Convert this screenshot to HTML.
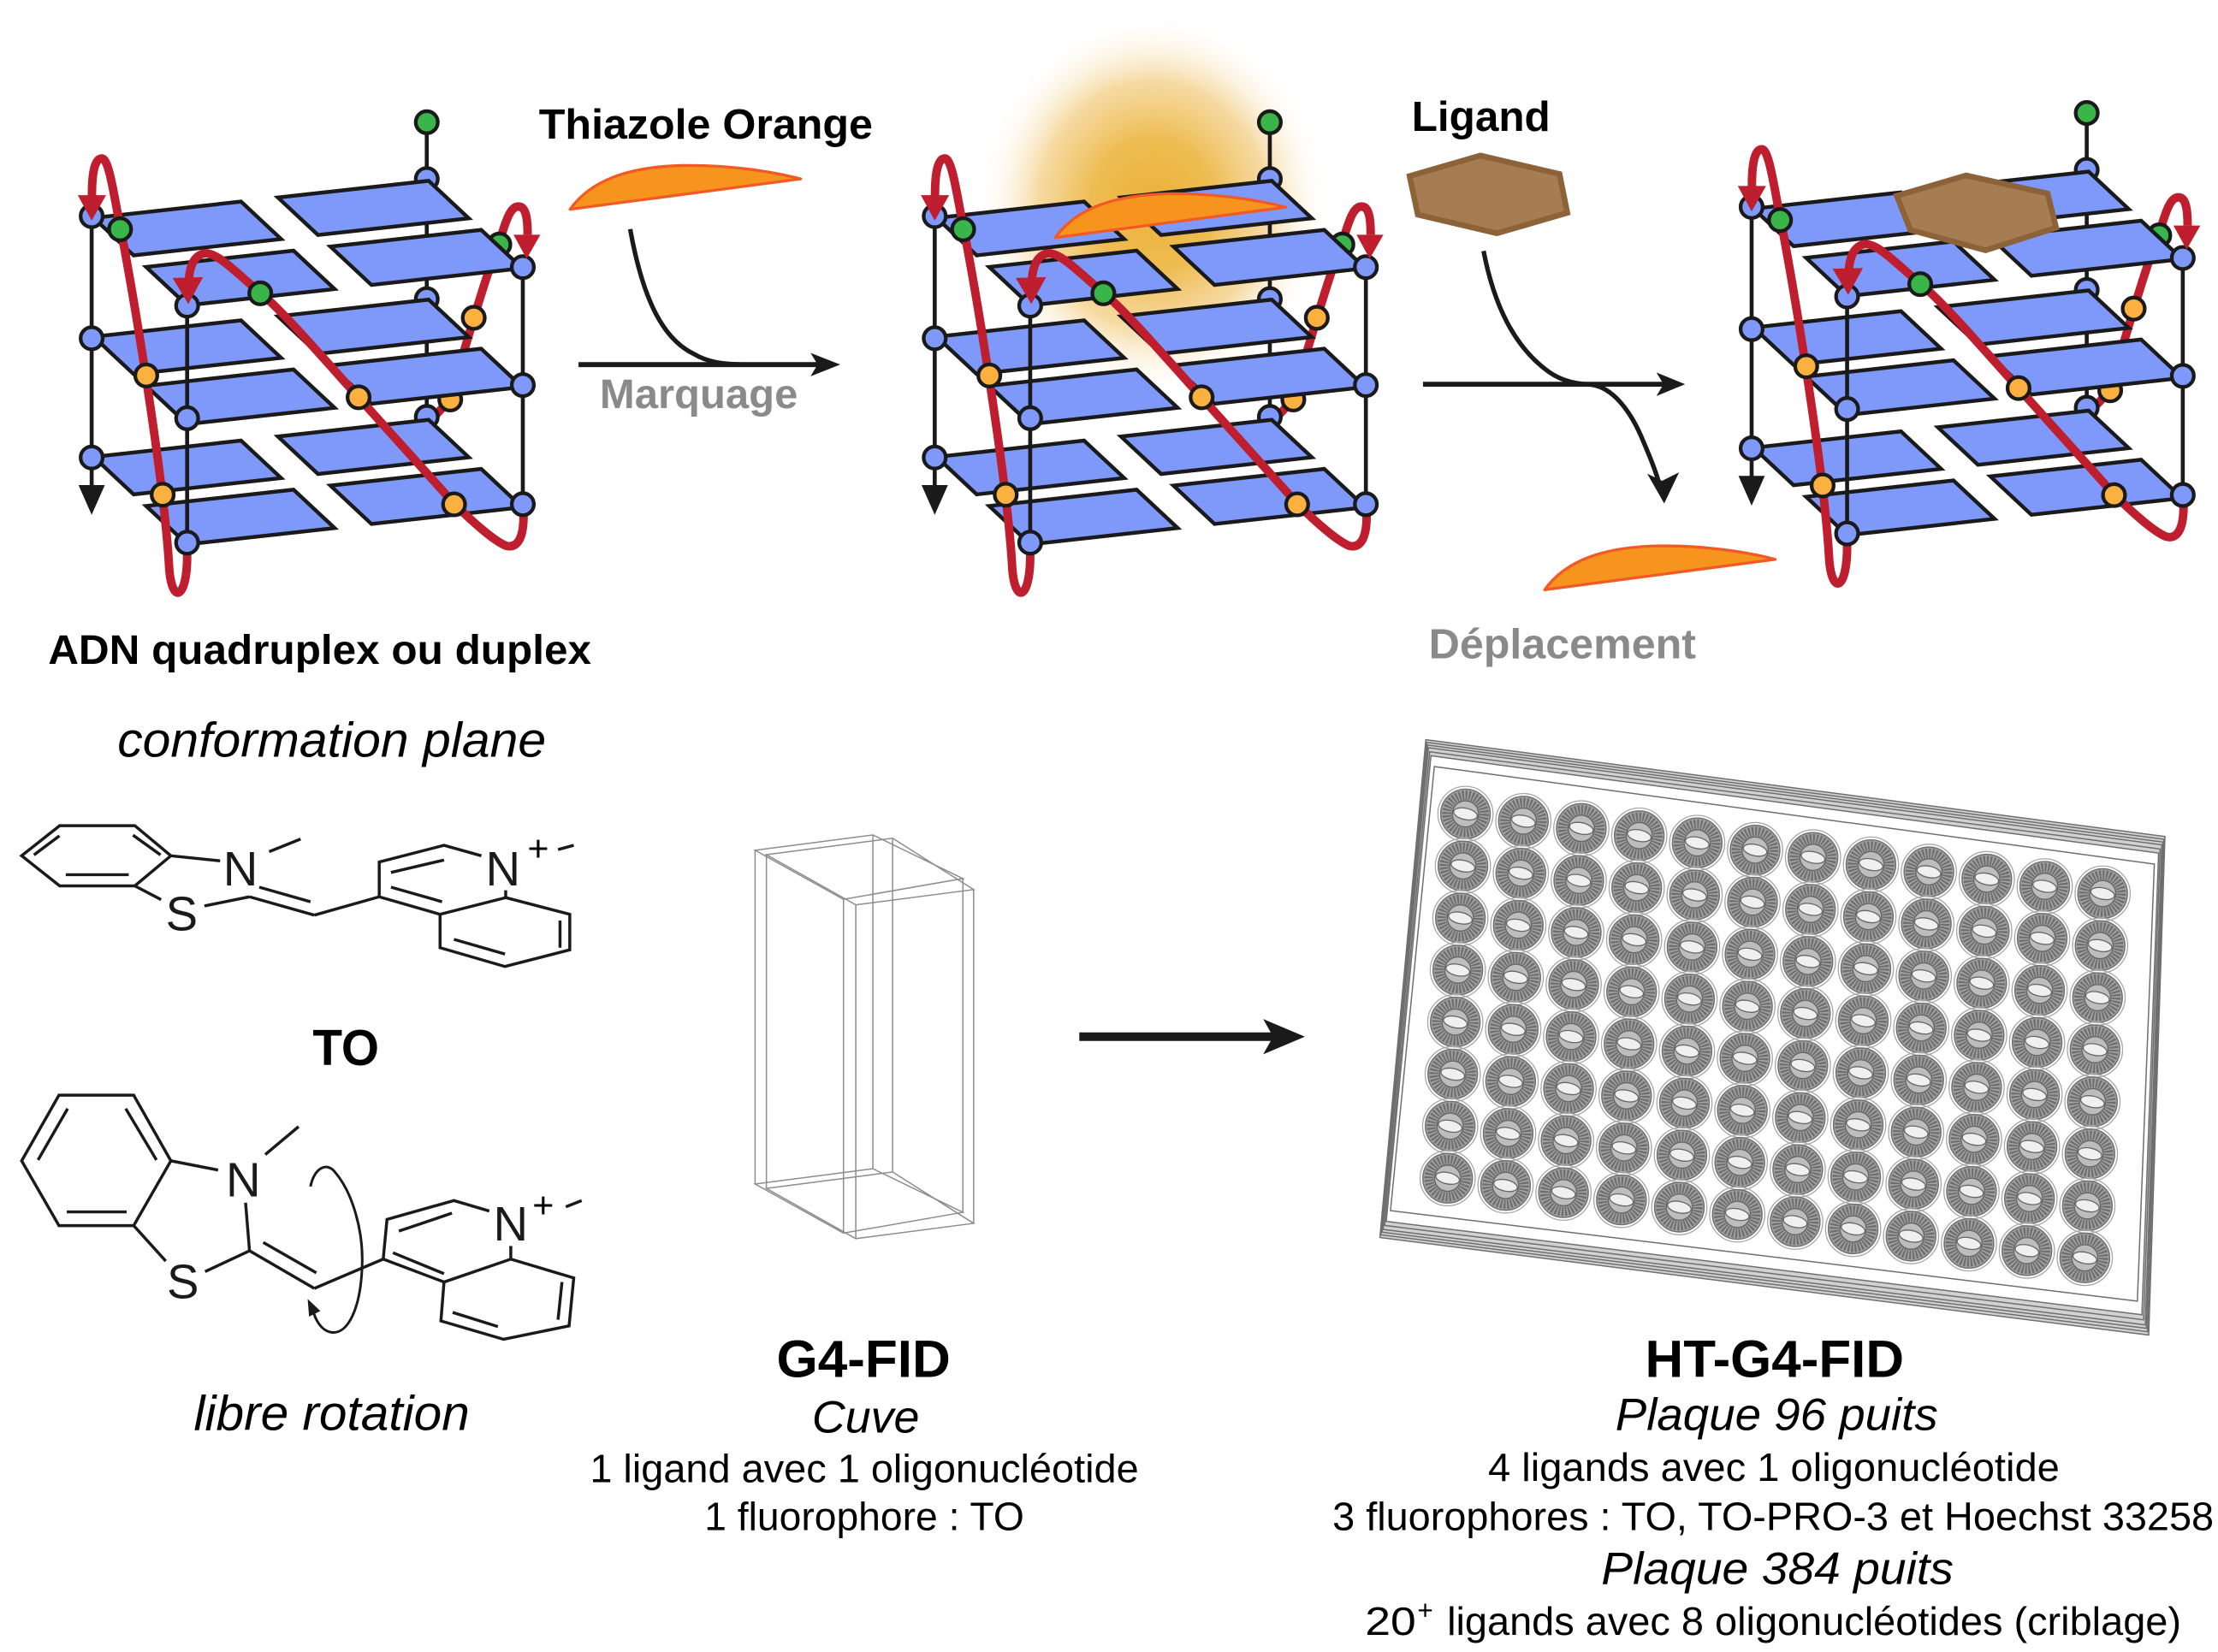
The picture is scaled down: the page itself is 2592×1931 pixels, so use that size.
<!DOCTYPE html>
<html><head><meta charset="utf-8">
<style>
html,body{margin:0;padding:0;background:#fff;}
svg{display:block;}
text{font-family:"Liberation Sans",Arial,Helvetica,sans-serif;}
</style></head><body>
<svg xmlns="http://www.w3.org/2000/svg" width="2592" height="1931" viewBox="0 0 1568 1168.1" preserveAspectRatio="none">
<defs>
<radialGradient id="glow" cx="0.5" cy="0.5" r="0.5">
 <stop offset="0" stop-color="#ebb23a"/>
 <stop offset="0.35" stop-color="#eebc52"/>
 <stop offset="0.65" stop-color="#f4d18c" stop-opacity="0.8"/>
 <stop offset="1" stop-color="#ffffff" stop-opacity="0"/>
</radialGradient>

<g id="layer" fill="#7f99fb" stroke="#1a1a1a" stroke-width="2.7" stroke-linejoin="miter">
 <polygon points="66.15,154.06 170.39,142.53 198.74,169.03 94.5,180.56"/>
 <polygon points="196.45,139.65 303.05,127.86 331.4,154.36 224.8,166.15"/>
 <polygon points="103.28,188.77 207.52,177.24 236.54,204.37 132.3,215.9"/>
 <polygon points="233.58,174.36 340.18,162.57 369.2,189.7 262.6,201.49"/>
</g>

<g id="q">
 <g stroke="#1a1a1a" stroke-width="2.8" fill="none">
  <line x1="64.8" y1="153" x2="64.8" y2="346"/>
  <line x1="301.7" y1="86" x2="301.7" y2="298"/>
 </g>
 <polygon points="55.5,343 74.1,343 64.8,364" fill="#1a1a1a"/>
 <path d="M303,298 C311,291 316,286 320,275 L335,225 C341,205 347,186 354,168 C358,155 361,146 366.5,146 C372,146 373,155 373,166" fill="none" stroke="#be1e2d" stroke-width="6"/>
 <g stroke="#1a1a1a" stroke-width="2.6">
  <circle cx="301.7" cy="126.6" r="7.8" fill="#7f99fb"/>
  <circle cx="301.7" cy="211.5" r="7.8" fill="#7f99fb"/>
  <circle cx="301.7" cy="294.8" r="7.8" fill="#7f99fb"/>
  <circle cx="301.7" cy="86.4" r="7.8" fill="#39b54a"/>
  <circle cx="353" cy="172.9" r="7.8" fill="#39b54a"/>
  <circle cx="334.9" cy="224.7" r="7.8" fill="#fbb040"/>
  <circle cx="318.3" cy="282.5" r="7.8" fill="#fbb040"/>
 </g>
 <use href="#layer"/>
 <use href="#layer" y="84"/>
 <use href="#layer" y="169"/>
 <g stroke="#1a1a1a" stroke-width="2.8" fill="none">
  <line x1="132.3" y1="216" x2="132.3" y2="384"/>
  <line x1="369.6" y1="189" x2="369.6" y2="357"/>
 </g>
 <g fill="none" stroke="#be1e2d" stroke-width="6" stroke-linecap="round">
  <path d="M132.3,392 C132.5,425 121,428 119.5,400 C116,340 95,210 83,150 C79,128 76,112 72,112 C67,112 65,122 65,138"/>
  <path d="M370,360 C371,380 366,388 358,386 C350,383 335,370 321,356 L253.5,281 C230,255 200,220 184,207 C168,194 152,176 143,179.5 C136,182 134,190 133.5,198"/>
 </g>
 <g stroke="#1a1a1a" stroke-width="2.6">
  <circle cx="64.8" cy="152.8" r="7.8" fill="#7f99fb"/>
  <circle cx="64.8" cy="239.2" r="7.8" fill="#7f99fb"/>
  <circle cx="64.8" cy="323.5" r="7.8" fill="#7f99fb"/>
  <circle cx="132.3" cy="216.1" r="7.8" fill="#7f99fb"/>
  <circle cx="132.3" cy="295.7" r="7.8" fill="#7f99fb"/>
  <circle cx="132.3" cy="383.7" r="7.8" fill="#7f99fb"/>
  <circle cx="369.6" cy="188.9" r="7.8" fill="#7f99fb"/>
  <circle cx="369.6" cy="272.3" r="7.8" fill="#7f99fb"/>
  <circle cx="369.6" cy="356.5" r="7.8" fill="#7f99fb"/>
  <circle cx="84.9" cy="162.1" r="7.8" fill="#39b54a"/>
  <circle cx="184" cy="207.4" r="7.8" fill="#39b54a"/>
  <circle cx="103.4" cy="265.5" r="7.8" fill="#fbb040"/>
  <circle cx="115" cy="349.8" r="7.8" fill="#fbb040"/>
  <circle cx="253.5" cy="280.9" r="7.8" fill="#fbb040"/>
  <circle cx="321" cy="356.6" r="7.8" fill="#fbb040"/>
 </g>
 <g fill="#be1e2d">
  <polygon points="55,138 75,138 64.8,156"/>
  <polygon points="122,196.5 143.5,196 133.1,215"/>
  <polygon points="363,166 382,166 372.3,183"/>
 </g>
</g>

<path id="cres" d="M403,148 C418,127 445,118 482,117 C515,116.5 545,121 566,126.5 L403,148 Z"/>

<g id="w">
 <circle r="19.5" fill="none" stroke="#a8a8a8" stroke-width="0.8"/>
 <circle r="17.5" fill="#a2a2a2" stroke="#707070" stroke-width="0.9"/>
 <circle r="13.2" fill="none" stroke="#6e6e6e" stroke-width="6.5" stroke-dasharray="1.3 1"/>
 <circle r="9.3" fill="#bdbdbd" stroke="#666" stroke-width="0.9"/>
 <ellipse rx="8.5" ry="4" fill="#f0f0f0" stroke="#666" stroke-width="0.8" transform="rotate(12)"/>
</g>
<g id="row">
 <use href="#w" x="1036" y="575.5"/>
 <use href="#w" x="1076.95" y="580.62"/>
 <use href="#w" x="1117.9" y="585.74"/>
 <use href="#w" x="1158.85" y="590.86"/>
 <use href="#w" x="1199.8" y="595.98"/>
 <use href="#w" x="1240.75" y="601.1"/>
 <use href="#w" x="1281.7" y="606.22"/>
 <use href="#w" x="1322.65" y="611.34"/>
 <use href="#w" x="1363.6" y="616.46"/>
 <use href="#w" x="1404.55" y="621.58"/>
 <use href="#w" x="1445.5" y="626.7"/>
 <use href="#w" x="1486.45" y="631.82"/>
</g>
</defs>

<rect x="0" y="0" width="1568" height="1168.1" fill="#fff"/>

<!-- glow behind structure 2 -->
<ellipse cx="815" cy="145" rx="125" ry="135" fill="url(#glow)"/>

<!-- quadruplex structures -->
<use href="#q"/>
<use href="#q" transform="translate(596,0)"/>
<use href="#q" transform="translate(1173.5,-6.5)"/>

<!-- crescents (thiazole orange) -->
<g fill="#f7941d" stroke="#f15a24" stroke-width="2" stroke-linejoin="round">
 <use href="#cres"/>
 <use href="#cres" transform="translate(343,20)"/>
 <use href="#cres" transform="translate(689,269)"/>
</g>

<!-- ligand hexagons -->
<g fill="#a67c52" stroke="#8c6239" stroke-width="4" stroke-linejoin="miter">
 <polygon points="996.5,124.5 1046.6,110 1102.5,123 1108,150.5 1058.2,165 1002.3,151.8"/>
 <polygon points="1340.9,138.4 1390,124 1447.5,136.8 1453.6,161 1403.7,177 1350.5,162.6"/>
</g>

<!-- arrow Marquage -->
<g stroke="#1a1a1a" stroke-width="3.5" fill="none">
 <line x1="409" y1="257.8" x2="580" y2="257.8"/>
 <path d="M445.5,162 C455,215 470,240 490,250 C500,256 510,257.8 530,257.8" stroke-width="3.2"/>
</g>
<polygon points="594,257.8 573,249.5 578,257.8 573,266.1" fill="#1a1a1a"/>

<!-- arrow Deplacement -->
<g stroke="#1a1a1a" stroke-width="3.5" fill="none">
 <line x1="1006" y1="271.7" x2="1178" y2="271.7"/>
 <path d="M1048.8,177.5 C1056,215 1070,245 1095,263 C1105,270 1115,271.5 1125,272 C1140,274 1152,290 1160,308 C1166,322 1171,334 1173.5,344" stroke-width="3.2"/>
</g>
<polygon points="1191.3,271.7 1171,263.4 1176,271.7 1171,280" fill="#1a1a1a"/>
<polygon points="1176.5,356 1164.5,335 1175,340 1187,334" fill="#1a1a1a"/>

<!-- top texts -->
<text x="381" y="98" font-weight="bold" font-size="30" textLength="236" lengthAdjust="spacingAndGlyphs">Thiazole Orange</text>
<text x="424" y="288.5" font-weight="bold" font-size="29" fill="#8a8a8a" textLength="140" lengthAdjust="spacingAndGlyphs">Marquage</text>
<text x="998" y="92.5" font-weight="bold" font-size="30" textLength="98" lengthAdjust="spacingAndGlyphs">Ligand</text>
<text x="1010" y="465.5" font-weight="bold" font-size="30" fill="#8a8a8a" textLength="189" lengthAdjust="spacingAndGlyphs">Déplacement</text>
<text x="34" y="469.5" font-weight="bold" font-size="29" textLength="384" lengthAdjust="spacingAndGlyphs">ADN quadruplex ou duplex</text>
<text x="83" y="535" font-style="italic" font-size="35" textLength="303" lengthAdjust="spacingAndGlyphs">conformation plane</text>
<text x="221" y="753" font-weight="bold" font-size="36" textLength="47" lengthAdjust="spacingAndGlyphs">TO</text>
<text x="137" y="1011" font-style="italic" font-size="35" textLength="195" lengthAdjust="spacingAndGlyphs">libre rotation</text>

<!-- top TO molecule -->
<g stroke="#1a1a1a" stroke-width="2.1" fill="none" stroke-linejoin="miter">
 <polygon points="15.3,605.1 42.2,583.8 95.3,583.8 120.8,605.1 95.3,626.4 42.2,626.4"/>
 <line x1="24" y1="604.5" x2="42" y2="591"/>
 <line x1="94" y1="590.5" x2="113.5" y2="604.5"/>
 <line x1="46.5" y1="618.5" x2="91" y2="618.5"/>
 <line x1="120.8" y1="605.1" x2="155.6" y2="608.7"/>
 <line x1="95.3" y1="626.4" x2="113.9" y2="636.1"/>
 <line x1="144.5" y1="640.6" x2="176.4" y2="634.1"/>
 <line x1="176.4" y1="634.1" x2="222.2" y2="647.1"/>
 <line x1="183.3" y1="627.3" x2="219.5" y2="637.6"/>
 <line x1="190.3" y1="602.2" x2="212.5" y2="593.3"/>
 <line x1="222.2" y1="647.1" x2="268.1" y2="634.1"/>
 <polyline points="268.1,634.1 268.1,609.5 313.9,597.7 340.3,605.1"/>
 <line x1="394.5" y1="600.7" x2="405.6" y2="597.7"/>
 <line x1="357.5" y1="629.5" x2="357.5" y2="634.7"/>
 <polygon points="357.5,634.7 402.8,646.5 402.8,671.6 357,683.4 311.1,670.1 311.1,646.5"/>
 <line x1="268.1" y1="634.1" x2="311.1" y2="646.5"/>
 <line x1="276.4" y1="616.9" x2="313.9" y2="608.1"/>
 <line x1="276.4" y1="627.3" x2="312.5" y2="637.6"/>
 <line x1="320.9" y1="664.2" x2="357" y2="674.6"/>
 <line x1="395.9" y1="650.9" x2="395.9" y2="670.1"/>
</g>
<g font-size="34" text-anchor="middle" fill="#1a1a1a">
 <text x="170" y="626">N</text>
 <text x="128.5" y="658">S</text>
 <text x="355.6" y="626">N</text>
</g>
<text x="380.5" y="609" font-size="26" text-anchor="middle">+</text>

<!-- bottom TO molecule -->
<g stroke="#1a1a1a" stroke-width="2.1" fill="none" stroke-linejoin="miter">
 <polygon points="41.7,774.4 94.5,774.4 120.8,820.8 94.5,866.6 41.7,866.6 15.3,820.8"/>
 <line x1="47.8" y1="783.9" x2="26.9" y2="820.2"/>
 <line x1="88.9" y1="783.9" x2="110.6" y2="820.2"/>
 <line x1="47.2" y1="856.9" x2="89.5" y2="856.9"/>
 <line x1="120.8" y1="820.8" x2="154.2" y2="827.3"/>
 <line x1="187.5" y1="816.4" x2="211.1" y2="796.6"/>
 <line x1="173.6" y1="850.4" x2="176.4" y2="884.4"/>
 <line x1="94.5" y1="866.6" x2="117.2" y2="891.7"/>
 <line x1="145" y1="899.1" x2="176.4" y2="884.4"/>
 <line x1="176.4" y1="884.4" x2="222.2" y2="911"/>
 <line x1="186.1" y1="878.5" x2="223.6" y2="900"/>
 <line x1="222.2" y1="911" x2="270.9" y2="890.3"/>
 <polyline points="270.9,890.3 273.6,862.2 320.9,848.9 345.9,856.3"/>
 <line x1="400" y1="853.3" x2="411.2" y2="848.9"/>
 <line x1="361.1" y1="881" x2="361.1" y2="890.3"/>
 <polygon points="361.1,890.3 405.6,903.6 402.3,937.5 356,947 311.7,934 313.9,906.5"/>
 <line x1="270.9" y1="890.3" x2="313.9" y2="906.5"/>
 <line x1="282" y1="870.5" x2="319.5" y2="857.8"/>
 <line x1="277.8" y1="885.8" x2="313.9" y2="900.6"/>
 <line x1="397.3" y1="906.5" x2="394.5" y2="933.1"/>
 <line x1="320" y1="928" x2="352" y2="938"/>
 <path d="M219.5,839 C222,826 231,821 237,829 C249,843 257,870 256,895 C255,925 246,944 234,942 C228,941 224,935 222,929" stroke-width="1.8"/>
</g>
<polygon points="217.5,918.5 226.5,927 218.5,931" fill="#1a1a1a"/>
<g font-size="34" text-anchor="middle" fill="#1a1a1a">
 <text x="172" y="846">N</text>
 <text x="129.3" y="918">S</text>
 <text x="361" y="877">N</text>
</g>
<text x="384" y="861" font-size="26" text-anchor="middle">+</text>

<!-- cuvette -->
<g stroke="#8c8c8c" stroke-width="0.9" fill="none">
 <polygon points="533.8,601.2 617.1,590.4 680.7,621.2 596.3,635.9"/>
 <polygon points="533.8,837.2 617.1,826.4 680.7,857.2 596.3,871.9"/>
 <line x1="533.8" y1="601.2" x2="533.8" y2="837.2"/>
 <line x1="617.1" y1="590.4" x2="617.1" y2="826.4"/>
 <line x1="680.7" y1="621.2" x2="680.7" y2="857.2"/>
 <line x1="596.3" y1="635.9" x2="596.3" y2="871.9"/>
 <polygon points="541.8,604.3 631,592.7 688.3,629 605,639.8"/>
 <polygon points="541.8,840.3 631,828.7 688.3,865 605,875.8"/>
 <line x1="541.8" y1="604.3" x2="541.8" y2="840.3"/>
 <line x1="631" y1="592.7" x2="631" y2="828.7"/>
 <line x1="688.3" y1="629" x2="688.3" y2="865"/>
 <line x1="605" y1="639.8" x2="605" y2="875.8"/>
</g>

<!-- big arrow -->
<line x1="763" y1="733" x2="902" y2="733" stroke="#1a1a1a" stroke-width="6"/>
<polygon points="922.5,733 893,720.5 900,733 893,745.5" fill="#1a1a1a"/>

<!-- plate -->
<path d="M1008,523 L1530.5,591.5 L1519,944 L975.5,875 Z M1011.6,534.4 L1526,603.2 L1514.2,929.6 L980,863.6 Z" fill="#d2d2d2" fill-rule="evenodd"/>
<g stroke="#6e6e6e" stroke-width="0.9" fill="none">
 <polygon points="1008,523 1530.5,591.5 1519,944 975.5,875"/>
 <polygon points="1008.6,524.9 1529.75,593.45 1518.2,941.6 976.25,873.1"/>
 <polygon points="1009.2,526.8 1529,595.4 1517.4,939.2 977,871.2"/>
 <polygon points="1009.8,528.7 1528.25,597.35 1516.6,936.8 977.75,869.3"/>
 <polygon points="1010.7,531.55 1527.1,600.3 1515.4,933.2 978.9,866.5"/>
 <polygon points="1011.6,534.4 1526,603.2 1514.2,929.6 980,863.6"/>
 <polygon points="1014,542 1523,611 1511,920 983,856"/>
</g>
<use href="#row"/>
<use href="#row" transform="translate(-1.8,36.8)"/>
<use href="#row" transform="translate(-3.6,73.6)"/>
<use href="#row" transform="translate(-5.4,110.4)"/>
<use href="#row" transform="translate(-7.2,147.2)"/>
<use href="#row" transform="translate(-9,184)"/>
<use href="#row" transform="translate(-10.8,220.8)"/>
<use href="#row" transform="translate(-12.6,257.6)"/>

<!-- bottom texts -->
<text x="549" y="973.5" font-weight="bold" font-size="37" textLength="123" lengthAdjust="spacingAndGlyphs">G4-FID</text>
<text x="574" y="1013" font-style="italic" font-size="32" textLength="76" lengthAdjust="spacingAndGlyphs">Cuve</text>
<text x="417" y="1048" font-size="28" textLength="388" lengthAdjust="spacingAndGlyphs">1 ligand avec 1 oligonucléotide</text>
<text x="498" y="1082" font-size="28" textLength="226" lengthAdjust="spacingAndGlyphs">1 fluorophore : TO</text>

<text x="1163" y="973.5" font-weight="bold" font-size="37" textLength="183" lengthAdjust="spacingAndGlyphs">HT-G4-FID</text>
<text x="1142" y="1011" font-style="italic" font-size="32" textLength="228" lengthAdjust="spacingAndGlyphs">Plaque 96 puits</text>
<text x="1052" y="1047" font-size="28" textLength="404" lengthAdjust="spacingAndGlyphs">4 ligands avec 1 oligonucléotide</text>
<text x="942" y="1082" font-size="28" textLength="623" lengthAdjust="spacingAndGlyphs">3 fluorophores : TO, TO-PRO-3 et Hoechst 33258</text>
<text x="1132" y="1120" font-style="italic" font-size="32" textLength="249" lengthAdjust="spacingAndGlyphs">Plaque 384 puits</text>
<text x="965" y="1156" font-size="28" textLength="36" lengthAdjust="spacingAndGlyphs">20</text>
<text x="1002" y="1145" font-size="19">+</text>
<text x="1023" y="1156" font-size="28" textLength="519" lengthAdjust="spacingAndGlyphs">ligands avec 8 oligonucléotides (criblage)</text>
</svg>
</body></html>
